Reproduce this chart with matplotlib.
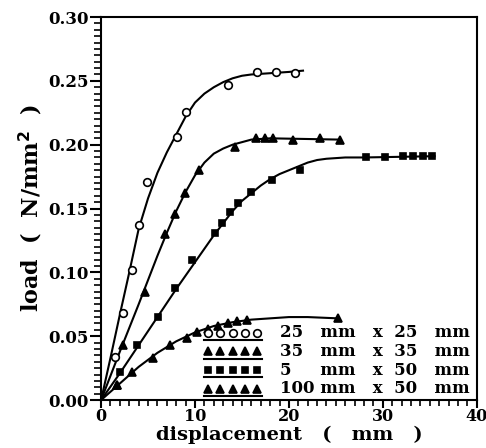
import numpy as np
import matplotlib
matplotlib.use("Agg")
import matplotlib.pyplot as plt
from matplotlib.lines import Line2D
from matplotlib.legend_handler import HandlerBase
from matplotlib.ticker import MultipleLocator

# measured points (displacement mm, load N/mm^2)
x_25 = [1.5, 2.3, 3.3, 4.0, 4.9, 8.1, 9.0, 13.5, 16.6, 18.6, 20.6]
y_25 = [0.034, 0.068, 0.102, 0.137, 0.171, 0.206, 0.226, 0.247, 0.257, 0.257, 0.256]

x_35 = [1.7, 2.3, 4.7, 6.8, 7.9, 8.9, 10.4, 14.3, 16.5, 17.4, 18.3, 20.4, 23.3, 25.4]
y_35 = [0.012, 0.043, 0.085, 0.130, 0.146, 0.162, 0.180, 0.198, 0.205, 0.205, 0.205, 0.204, 0.205, 0.204]

x_5 = [2.0, 3.8, 6.1, 7.9, 9.7, 12.1, 12.9, 13.7, 14.6, 16.0, 18.2, 21.2, 28.2, 30.2, 32.1, 33.2, 34.3, 35.2]
y_5 = [0.022, 0.043, 0.065, 0.088, 0.110, 0.131, 0.139, 0.147, 0.154, 0.163, 0.172, 0.180, 0.190, 0.190, 0.191, 0.191, 0.191, 0.191]

x_100 = [1.7, 3.3, 5.5, 7.3, 9.1, 10.2, 11.4, 12.5, 13.5, 14.5, 15.5, 25.2]
y_100 = [0.012, 0.022, 0.033, 0.043, 0.049, 0.053, 0.056, 0.058, 0.060, 0.062, 0.063, 0.064]

# fitted curves
cx_25 = [0, 1, 2, 3, 4, 5, 6, 7, 8, 9, 10, 11, 12, 13, 14, 15, 16, 18, 20, 21.5]
cy_25 = [0, 0.033, 0.067, 0.100, 0.134, 0.158, 0.178, 0.194, 0.208, 0.222, 0.233,
         0.240, 0.245, 0.249, 0.252, 0.254, 0.255, 0.256, 0.257, 0.258]

cx_35 = [0, 2, 4, 6, 7, 8, 9, 10, 11, 12, 13, 14, 15, 16, 18, 25.4]
cy_35 = [0, 0.038, 0.075, 0.113, 0.131, 0.148, 0.163, 0.176, 0.186, 0.193, 0.197,
         0.200, 0.202, 0.204, 0.205, 0.204]

cx_5 = [0, 2, 4, 6, 8, 10, 12, 14, 15, 16, 17, 18, 19, 20, 21, 22, 23, 24, 26, 28, 35.5]
cy_5 = [0, 0.021, 0.043, 0.065, 0.087, 0.108, 0.129, 0.148, 0.156, 0.162, 0.168,
        0.173, 0.177, 0.180, 0.183, 0.186, 0.188, 0.189, 0.190, 0.190, 0.191]

cx_100 = [0, 2, 4, 6, 8, 10, 12, 14, 16, 18, 20, 22, 25.2]
cy_100 = [0, 0.013, 0.026, 0.037, 0.046, 0.053, 0.058, 0.061, 0.063, 0.064, 0.065,
          0.065, 0.064]

labels = ["25   mm   x  25   mm",
          "35   mm   x  35   mm",
          "5     mm   x  50   mm",
          "100 mm   x  50   mm"]


class UnderlinedMarkers(HandlerBase):
    # five markers sitting on a line, as in the original legend
    def create_artists(self, legend, orig_handle, xdescent, ydescent,
                       width, height, fontsize, trans):
        x0 = -xdescent
        y0 = -ydescent
        base = Line2D([x0, x0 + width], [y0 - 2, y0 - 2], color="black",
                      lw=1.5, transform=trans)
        xs = np.linspace(x0 + width * 0.08, x0 + width * 0.92, 5)
        mk = Line2D(xs, np.full(5, y0 + height * 0.4), ls="none",
                    marker=orig_handle.get_marker(),
                    markersize=orig_handle.get_markersize(),
                    markerfacecolor=orig_handle.get_markerfacecolor(),
                    markeredgecolor="black", markeredgewidth=1.2,
                    transform=trans)
        return [base, mk]


plt.rcParams["font.family"] = ["DejaVu Serif"]
plt.rcParams["font.weight"] = "bold"

fig = plt.figure(figsize=(4.86, 4.48), dpi=100)
ax = fig.add_axes([0.208, 0.107, 0.773, 0.855])

styles = [
    (x_25, y_25, cx_25, cy_25, dict(marker="o", ms=5.5, mfc="white")),
    (x_35, y_35, cx_35, cy_35, dict(marker="^", ms=6, mfc="black")),
    (x_5, y_5, cx_5, cy_5, dict(marker="s", ms=5, mfc="black")),
    (x_100, y_100, cx_100, cy_100, dict(marker="^", ms=5.5, mfc="black")),
]

handles = []
for (px, py, cx, cy, mk), lab in zip(styles, labels):
    ax.plot(cx, cy, color="black", lw=1.5, zorder=2)
    ax.plot(px, py, ls="none", mec="black", mew=1.2, zorder=3, **mk)
    handles.append(Line2D([], [], ls="none", mec="black", mew=1.2, **mk))

ax.set_xlim(0, 40)
ax.set_ylim(0, 0.30)
ax.xaxis.set_major_locator(MultipleLocator(10))
ax.xaxis.set_minor_locator(MultipleLocator(1))
ax.yaxis.set_major_locator(MultipleLocator(0.05))
ax.yaxis.set_minor_locator(MultipleLocator(0.005))
ax.yaxis.set_major_formatter(plt.FormatStrFormatter("%.2f"))

ax.tick_params(axis="y", which="major", direction="out", length=8, width=1.5,
               labelsize=12, pad=1)
ax.tick_params(axis="y", which="minor", direction="out", length=5, width=1.2)
ax.tick_params(axis="x", which="major", direction="out", length=6, width=1.5,
               labelsize=11.5, pad=0)
ax.tick_params(axis="x", which="minor", direction="out", length=4, width=1.2)
for lab in ax.get_xticklabels() + ax.get_yticklabels():
    lab.set_fontweight("bold")
for sp in ax.spines.values():
    sp.set_linewidth(1.5)

ax.set_xlabel("displacement   (   mm   )", fontsize=14, fontweight="bold",
              labelpad=0)
ax.set_ylabel("load  (  N/mm$^\\mathbf{2}$  )", fontsize=16,
              fontweight="bold", labelpad=2)

ax.legend(handles, labels, loc="lower right", bbox_to_anchor=(1.0, -0.01),
          frameon=False, handler_map={Line2D: UnderlinedMarkers()},
          prop={"family": "DejaVu Serif", "weight": "bold", "size": 12},
          handlelength=3.5, handletextpad=1.1, labelspacing=0.1,
          borderaxespad=0.2, borderpad=0.2)

fig.savefig("out.png", dpi=100)
